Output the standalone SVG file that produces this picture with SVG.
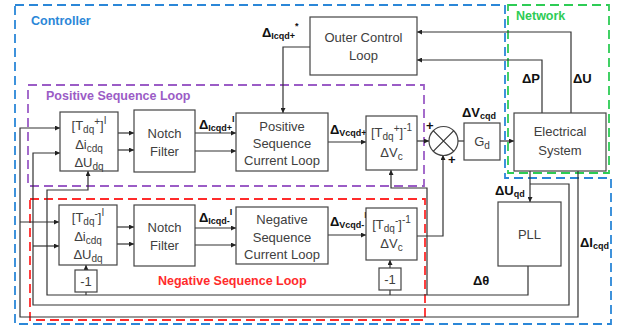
<svg xmlns="http://www.w3.org/2000/svg" width="617" height="327" viewBox="0 0 617 327">
<defs>
<marker id="ah" viewBox="0 0 6 6" refX="6" refY="3" markerWidth="5" markerHeight="5" orient="auto" markerUnits="userSpaceOnUse">
<path d="M0,0 L6,3 L0,6 z" fill="#222"/>
</marker>
</defs>
<style>
.box{fill:#fff;stroke:#444;stroke-width:1.2}
.w{fill:none;stroke:#333;stroke-width:1.2}
.wa{fill:none;stroke:#333;stroke-width:1.2;marker-end:url(#ah)}
.dash{fill:none;stroke-width:1.8;stroke-dasharray:9 5}
.t{font-family:"Liberation Sans",Arial,sans-serif;font-size:13px;fill:#404040;text-anchor:middle}
.t .s{font-size:10px}
.lb{font-family:"Liberation Sans",Arial,sans-serif;font-size:13px;font-weight:bold;fill:#111}
.s{font-size:9px}
.title{font-family:"Liberation Sans",Arial,sans-serif;font-size:12.5px;font-weight:bold}
</style>

<g id="regions">
<path class="dash" stroke="#2b87d8" d="M15,5 H505 V178 H611 V324 H15 Z"/>
<rect class="dash" stroke="#2ecc55" x="508" y="5" width="101" height="168"/>
<rect class="dash" stroke="#9b5cc6" x="28" y="85" width="396" height="101"/>
<rect class="dash" stroke="#ff2b2b" x="30" y="199" width="395" height="121"/>
<text class="title" fill="#2b87d8" x="31" y="25" font-size="13">Controller</text>
<text class="title" fill="#2ecc55" x="516" y="20" font-size="13">Network</text>
<text class="title" fill="#9b5cc6" x="46" y="100">Positive Sequence Loop</text>
<text class="title" fill="#ff2b2b" x="158" y="285">Negative Sequence Loop</text>
</g>

<g id="connectors">
<path class="wa" d="M310,47 H283 V113"/>
<path class="wa" d="M571,113 V32 H417"/>
<path class="wa" d="M542,113 V60 H417"/>
<path class="wa" d="M118,133 H134"/>
<path class="wa" d="M118,150 H134"/>
<path class="wa" d="M195,133 H236"/>
<path class="wa" d="M195,151 H236"/>
<path class="wa" d="M328,142 H366"/>
<path class="wa" d="M417,141 H429"/>
<path class="w" d="M458,141 H464"/>
<path class="wa" d="M500,141 H514"/>
<path class="wa" d="M117,227 H134"/>
<path class="wa" d="M117,244 H134"/>
<path class="wa" d="M195,228 H236"/>
<path class="wa" d="M195,245 H236"/>
<path class="wa" d="M328,235 H366"/>
<path class="wa" d="M417,236 H443 V155"/>
<path class="wa" d="M530,171 V202"/>
<path class="wa" d="M530,184 H569 V305 H33 V153 H60"/>
<path class="wa" d="M33,246 H59"/>
<path class="wa" d="M578,171 V317 H20 V128 H60"/>
<path class="wa" d="M20,222 H59"/>
<path class="wa" d="M528,266 V295 H47 V190 H88 V171"/>
<path class="w" d="M86,295 V292"/>
<path class="wa" d="M86,270 V265"/>
<path class="w" d="M390,295 V290"/>
<path class="wa" d="M390,268 V260"/>
<path class="wa" d="M427,295 V188 H391 V170"/>
</g>

<g id="labels">
<text class="lb" x="262" y="37">Δ<tspan class="s" dy="2">Icqd+</tspan><tspan class="s" dy="-10">*</tspan></text>
<text class="lb" x="199" y="129">Δ<tspan class="s" dy="2">Icqd+</tspan><tspan class="s" dy="-9">I</tspan></text>
<text class="lb" x="330" y="134">Δ<tspan class="s" dy="2">Vcqd+</tspan><tspan class="s" dy="-10">I</tspan></text>
<text class="lb" x="199" y="222">Δ<tspan class="s" dy="2">Icqd-</tspan><tspan class="s" dy="-9">I</tspan></text>
<text class="lb" x="330" y="226">Δ<tspan class="s" dy="2">Vcqd-</tspan><tspan class="s" dy="-10">I</tspan></text>
<text class="lb" x="462" y="117">ΔV<tspan class="s" dy="2">cqd</tspan></text>
<text class="lb" x="522" y="83">ΔP</text>
<text class="lb" x="573" y="83">ΔU</text>
<text class="lb" x="495" y="195">ΔU<tspan class="s" dy="2">qd</tspan></text>
<text class="lb" x="473" y="285">Δθ</text>
<text class="lb" x="580" y="247">ΔI<tspan class="s" dy="2">cqd</tspan></text>
<text class="lb" x="426" y="130" font-size="12">+</text>
<text class="lb" x="448" y="164" font-size="12">+</text>
</g>

<g id="tdq_pos">
<rect class="box" x="60" y="112" width="58" height="59"/>
<text class="t" x="89" y="130">[T<tspan class="s" dy="3">dq</tspan><tspan class="s" dy="-8">+</tspan><tspan dy="5">]</tspan><tspan class="s" dy="-6">I</tspan></text>
<text class="t" x="89" y="149">Δi<tspan class="s" dy="3">cdq</tspan></text>
<text class="t" x="89" y="167">ΔU<tspan class="s" dy="3">dq</tspan></text>
</g>
<g id="notch_pos">
<rect class="box" x="134" y="110" width="61" height="62"/>
<text class="t" x="164.5" y="138">Notch</text>
<text class="t" x="164.5" y="156">Filter</text>
</g>
<g id="pos_current_loop">
<rect class="box" x="236" y="113" width="92" height="58"/>
<text class="t" x="282" y="131">Positive</text>
<text class="t" x="282" y="148">Sequence</text>
<text class="t" x="282" y="165">Current Loop</text>
</g>
<g id="outer_loop">
<rect class="box" x="310" y="17" width="107" height="58"/>
<text class="t" x="363.5" y="42">Outer Control</text>
<text class="t" x="363.5" y="60">Loop</text>
</g>
<g id="tinv_pos">
<rect class="box" x="366" y="116" width="51" height="54"/>
<text class="t" x="391.5" y="137">[T<tspan class="s" dy="3">dq</tspan><tspan class="s" dy="-8">+</tspan><tspan dy="5">]</tspan><tspan class="s" dy="-6">-1</tspan></text>
<text class="t" x="391.5" y="157">ΔV<tspan class="s" dy="3">c</tspan></text>
</g>
<g id="sum">
<circle cx="443.5" cy="141" r="14.5" fill="#fff" stroke="#444" stroke-width="1.2"/>
<path class="w" d="M433.2,130.7 L453.8,151.3 M453.8,130.7 L433.2,151.3"/>
</g>
<g id="gd">
<rect class="box" x="464" y="123" width="36" height="37"/>
<text class="t" x="482" y="146">G<tspan class="s" dy="3">d</tspan></text>
</g>
<g id="electrical_system">
<rect class="box" x="514" y="113" width="92" height="58"/>
<text class="t" x="560" y="136">Electrical</text>
<text class="t" x="560" y="155">System</text>
</g>
<g id="tdq_neg">
<rect class="box" x="59" y="205" width="58" height="60"/>
<text class="t" x="88" y="222">[T<tspan class="s" dy="3">dq</tspan><tspan class="s" dy="-8">-</tspan><tspan dy="5">]</tspan><tspan class="s" dy="-6">I</tspan></text>
<text class="t" x="88" y="241">Δi<tspan class="s" dy="3">cdq</tspan></text>
<text class="t" x="88" y="259">ΔU<tspan class="s" dy="3">dq</tspan></text>
</g>
<g id="neg1_left">
<rect class="box" x="75" y="270" width="22" height="22"/>
<text class="t" x="86" y="286">-1</text>
</g>
<g id="notch_neg">
<rect class="box" x="134" y="205" width="61" height="61"/>
<text class="t" x="164.5" y="232">Notch</text>
<text class="t" x="164.5" y="250">Filter</text>
</g>
<g id="neg_current_loop">
<rect class="box" x="236" y="207" width="92" height="57"/>
<text class="t" x="282" y="224">Negative</text>
<text class="t" x="282" y="242">Sequence</text>
<text class="t" x="282" y="259">Current Loop</text>
</g>
<g id="tinv_neg">
<rect class="box" x="366" y="208" width="51" height="52"/>
<text class="t" x="391.5" y="229">[T<tspan class="s" dy="3">dq</tspan><tspan class="s" dy="-8">-</tspan><tspan dy="5">]</tspan><tspan class="s" dy="-6">-1</tspan></text>
<text class="t" x="391.5" y="248">ΔV<tspan class="s" dy="3">c</tspan></text>
</g>
<g id="neg1_right">
<rect class="box" x="379" y="268" width="22" height="22"/>
<text class="t" x="390" y="284">-1</text>
</g>
<g id="pll">
<rect class="box" x="498" y="202" width="63" height="64"/>
<text class="t" x="529.5" y="239">PLL</text>
</g>
</svg>
